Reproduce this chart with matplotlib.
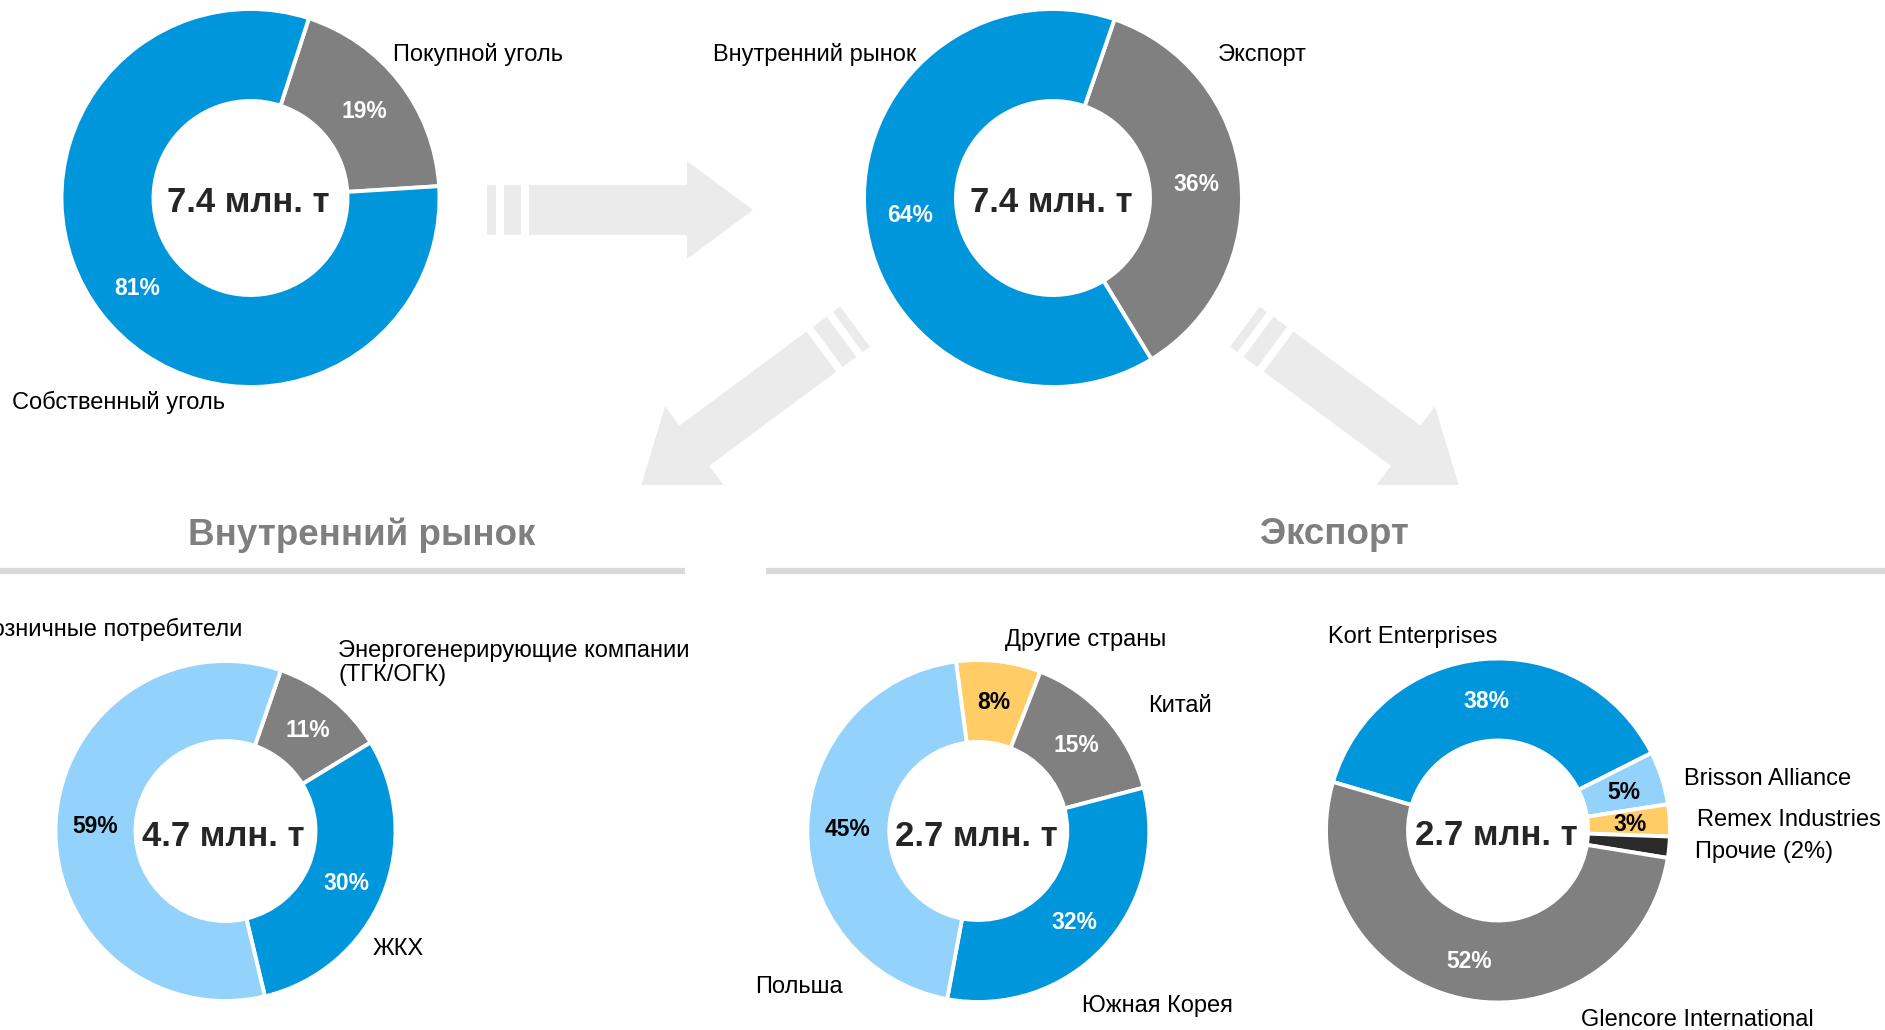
import numpy as np
import matplotlib.pyplot as plt
from matplotlib.patches import Polygon

plt.rcParams['font.family'] = ['Liberation Sans', 'DejaVu Sans']

W, H = 1885, 1030

BLUE = '#0096DB'
LIGHT = '#93D3FB'
GRAY = '#808080'
YELLOW = '#FFCC66'
DARK = '#2B2B2B'
ARROW = '#EBEBEB'
TEXT = '#262626'

# where the coal comes from
src_labels = ['Покупной уголь', 'Собственный уголь']
src_values = [19, 81]
src_colors = [GRAY, BLUE]

# sales split
sales_labels = ['Экспорт', 'Внутренний рынок']
sales_values = [36, 64]
sales_colors = [GRAY, BLUE]

# domestic buyers
dom_labels = ['Энергогенерирующие компании\n(ТГК/ОГК)', 'ЖКХ', 'Розничные потребители']
dom_values = [11, 30, 59]
dom_colors = [GRAY, BLUE, LIGHT]

# export by country
country_labels = ['Другие страны', 'Китай', 'Южная Корея', 'Польша']
country_values = [8, 15, 32, 45]
country_colors = [YELLOW, GRAY, BLUE, LIGHT]

# export by trader
trader_labels = ['Kort Enterprises', 'Brisson Alliance', 'Remex Industries',
                 'Прочие (2%)', 'Glencore International']
trader_values = [38, 5, 3, 2, 52]
trader_colors = [BLUE, LIGHT, YELLOW, DARK, GRAY]

totals = ['7.4 млн. т', '7.4 млн. т', '4.7 млн. т', '2.7 млн. т', '2.7 млн. т']
section_titles = ['Внутренний рынок', 'Экспорт']


def donut(ax, values, colors, center, r_out, r_in, start, total, pct_colors):
    cx, cy = center[0], H - center[1]
    wedges, _ = ax.pie(values, colors=colors, startangle=start, counterclock=False,
                       radius=r_out, center=(cx, cy),
                       wedgeprops=dict(width=r_out - r_in, edgecolor='white', linewidth=2.8))
    r_mid = (r_out + r_in) / 2 + 1
    for w, v, c in zip(wedges, values, pct_colors):
        if c is None:
            continue
        ang = np.deg2rad((w.theta1 + w.theta2) / 2)
        ax.text(cx + r_mid * np.cos(ang), cy + r_mid * np.sin(ang) - 2, f'{v}%',
                ha='center', va='center', fontsize=16.5, fontweight='bold', color=c)
    ax.text(cx - 2, cy - 5, total, ha='center', va='center', fontsize=25,
            fontweight='bold', color=TEXT)


def label(ax, x, y, s, ha='left'):
    ax.text(x, H - y - 2, s, ha=ha, va='center', fontsize=17, color='black',
            linespacing=1.15)


def arrow(ax, origin, angle):
    a = np.deg2rad(angle)
    d = np.array([np.cos(a), np.sin(a)])
    n = np.array([-np.sin(a), np.cos(a)])
    shapes = [
        [(0, -25), (9, -25), (9, 25), (0, 25)],
        [(17, -25), (34, -25), (34, 25), (17, 25)],
        [(42, -25), (200, -25), (200, -49), (266, 0), (200, 49), (200, 25), (42, 25)],
    ]
    for shp in shapes:
        pts = []
        for lx, ly in shp:
            p = np.array(origin) + lx * d + ly * n
            pts.append((p[0], H - p[1]))
        ax.add_patch(Polygon(pts, closed=True, facecolor=ARROW, edgecolor='none'))


fig = plt.figure(figsize=(W / 100, H / 100), dpi=100)
ax = fig.add_axes([0, 0, 1, 1])

# arrows between the charts
arrow(ax, (487, 210), 0)
arrow(ax, (855.1, 326.7), 143.5)
arrow(ax, (1244.9, 326.7), 36.5)

# top row
donut(ax, src_values, src_colors, (250.5, 198), 189, 97, 72, totals[0], ['white', 'white'])
donut(ax, sales_values, sales_colors, (1053, 198), 189, 97, 71, totals[1], ['white', 'white'])
label(ax, 393, 53, src_labels[0])
label(ax, 12, 400, src_labels[1])
label(ax, 1218, 53, sales_labels[0])
label(ax, 916, 53, sales_labels[1], ha='right')

# section headers
ax.text(362, H - 535, section_titles[0], ha='center', va='center', fontsize=26.5,
        fontweight='bold', color='#7F7F7F')
ax.text(1334, H - 535, section_titles[1], ha='center', va='center', fontsize=26.5,
        fontweight='bold', color='#7F7F7F')
ax.plot([0, 685], [H - 571, H - 571], color='#D9D9D9', lw=4.5, solid_capstyle='butt')
ax.plot([766, W], [H - 571, H - 571], color='#D9D9D9', lw=4.5, solid_capstyle='butt')

# bottom row
donut(ax, dom_values, dom_colors, (225.5, 831), 170, 90, 71, totals[2],
      ['white', 'white', 'black'])
label(ax, 338, 661, dom_labels[0])
label(ax, 373, 947, dom_labels[1])
label(ax, 242, 627, dom_labels[2], ha='right')

donut(ax, country_values, country_colors, (978.3, 831), 171, 89, 97.5, totals[3],
      ['black', 'white', 'white', 'black'])
label(ax, 1005, 638, country_labels[0])
label(ax, 1148, 704, country_labels[1])
label(ax, 1082, 1004, country_labels[2])
label(ax, 755, 985, country_labels[3])

donut(ax, trader_values, trader_colors, (1498, 830.5), 172, 90, 163.6, totals[4],
      ['white', 'black', 'black', None, 'white'])
label(ax, 1328, 635, trader_labels[0])
label(ax, 1684, 777, trader_labels[1])
label(ax, 1697, 818, trader_labels[2])
label(ax, 1695, 850, trader_labels[3])
label(ax, 1581, 1018, trader_labels[4])

ax.set_xlim(0, W)
ax.set_ylim(0, H)
ax.axis('off')

fig.savefig('out.png', dpi=100)
